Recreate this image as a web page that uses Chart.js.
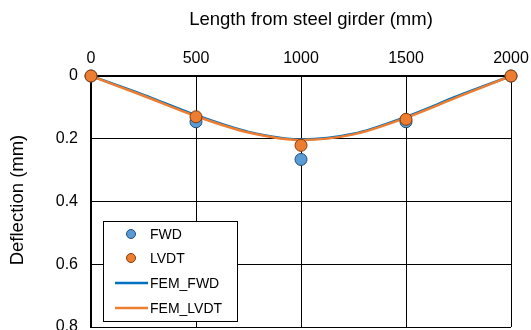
<!DOCTYPE html>
<html>
<head>
<meta charset="utf-8">
<script src="https://cdn.jsdelivr.net/npm/chart.js@4.4.1/dist/chart.umd.min.js"></script>
<style>
  html, body { margin: 0; padding: 0; background: #fff; overflow: hidden; }
  #wrap { width: 531px; height: 330px; overflow: hidden; }
  canvas { display: block; }
</style>
</head>
<body>
<div id="wrap">
  <canvas id="chart" width="531" height="330"></canvas>
</div>
<script>
// measured points
const positions = [0, 500, 1000, 1500, 2000];
const fwd = [0, 0.146, 0.266, 0.146, 0];
const lvdt = [0, 0.130, 0.221, 0.138, 0];

// FEM curves
const femPositions = [0, 250, 500, 750, 1000, 1250, 1500, 1750, 2000];
const femFwd = [0, 0.060, 0.125, 0.178, 0.202, 0.184, 0.130, 0.063, 0];
const femLvdt = [0, 0.063, 0.128, 0.180, 0.204, 0.186, 0.133, 0.066, 0];

const xTicks = [0, 500, 1000, 1500, 2000];
const yTicks = [0, 0.2, 0.4, 0.6, 0.8];

const FONT = '"Liberation Sans", Arial, sans-serif';

const toXY = (xs, ys) => xs.map((x, i) => ({ x: x, y: ys[i] }));

// axis titles + legend box drawn by hand
const extras = {
  id: 'extras',
  afterDraw(chart) {
    const ctx = chart.ctx;
    ctx.save();
    ctx.fillStyle = '#000';
    ctx.font = '18.5px ' + FONT;
    ctx.textAlign = 'center';
    ctx.textBaseline = 'middle';
    ctx.fillText('Length from steel girder (mm)', 311, 20);
    ctx.translate(18, 200);
    ctx.rotate(-Math.PI / 2);
    ctx.fillText('Deflection (mm)', 0, 0);
    ctx.restore();

    // legend
    const lx = 103, ly = 221, lw = 134, lh = 100;
    ctx.save();
    ctx.fillStyle = '#fff';
    ctx.fillRect(lx, ly, lw, lh);
    ctx.strokeStyle = '#000';
    ctx.lineWidth = 1;
    ctx.strokeRect(lx + 0.5, ly + 0.5, lw, lh);
    ctx.font = '14px ' + FONT;
    ctx.textAlign = 'left';
    ctx.textBaseline = 'middle';
    const rows = [234, 258, 283, 308];
    chart.data.datasets.forEach((ds, i) => {
      const y = rows[i];
      if (ds.showLine) {
        ctx.strokeStyle = ds.borderColor;
        ctx.lineWidth = 2.5;
        ctx.beginPath();
        ctx.moveTo(115, y);
        ctx.lineTo(148, y);
        ctx.stroke();
      } else {
        ctx.fillStyle = ds.backgroundColor;
        ctx.strokeStyle = ds.borderColor;
        ctx.lineWidth = 1;
        ctx.beginPath();
        ctx.arc(131, y, 4.5, 0, Math.PI * 2);
        ctx.fill();
        ctx.stroke();
      }
      ctx.fillStyle = '#000';
      ctx.fillText(ds.label, 150, y + 1);
    });
    ctx.restore();
  }
};

new Chart(document.getElementById('chart'), {
  type: 'scatter',
  data: {
    datasets: [
      {
        label: 'FWD',
        data: toXY(positions, fwd),
        backgroundColor: '#5B9BD5',
        borderColor: '#1F4E79',
        borderWidth: 1,
        pointRadius: 6,
        showLine: false,
        clip: false,
        order: 1
      },
      {
        label: 'LVDT',
        data: toXY(positions, lvdt),
        backgroundColor: '#ED7D31',
        borderColor: '#843C0C',
        borderWidth: 1,
        pointRadius: 6,
        showLine: false,
        clip: false,
        order: 0
      },
      {
        label: 'FEM_FWD',
        data: toXY(femPositions, femFwd),
        borderColor: '#0070C0',
        backgroundColor: '#0070C0',
        borderWidth: 2.5,
        pointRadius: 0,
        showLine: true,
        cubicInterpolationMode: 'monotone',
        order: 3
      },
      {
        label: 'FEM_LVDT',
        data: toXY(femPositions, femLvdt),
        borderColor: '#ED7D31',
        backgroundColor: '#ED7D31',
        borderWidth: 2.5,
        pointRadius: 0,
        showLine: true,
        cubicInterpolationMode: 'monotone',
        order: 2
      }
    ]
  },
  options: {
    responsive: false,
    animation: false,
    layout: { autoPadding: false, padding: { left: 0, top: 0, right: 20, bottom: 3 } },
    plugins: {
      legend: { display: false },
      tooltip: { enabled: false }
    },
    scales: {
      x: {
        type: 'linear',
        position: 'top',
        min: 0,
        max: 2000,
        afterBuildTicks: (s) => { s.ticks = xTicks.map(v => ({ value: v })); },
        afterFit: (s) => { s.height = 76; s.paddingLeft = 0; s.paddingRight = 0; },
        ticks: {
          color: '#000', font: { family: FONT, size: 16 }, padding: 8, maxRotation: 0,
          callback: (v) => String(v)
        },
        grid: { color: '#000', lineWidth: 1, drawTicks: false },
        border: { color: '#000', width: 2 }
      },
      y: {
        reverse: true,
        min: 0,
        max: 0.8,
        afterBuildTicks: (s) => { s.ticks = yTicks.map(v => ({ value: v })); },
        afterFit: (s) => { s.width = 91; s.paddingTop = 0; s.paddingBottom = 0; },
        ticks: {
          color: '#000', font: { family: FONT, size: 16 }, padding: 13,
          callback: (v) => String(Math.round(v * 10) / 10)
        },
        grid: { color: '#000', lineWidth: 1, drawTicks: false },
        border: { color: '#000', width: 2 }
      }
    }
  },
  plugins: [extras]
});
</script>
</body>
</html>
